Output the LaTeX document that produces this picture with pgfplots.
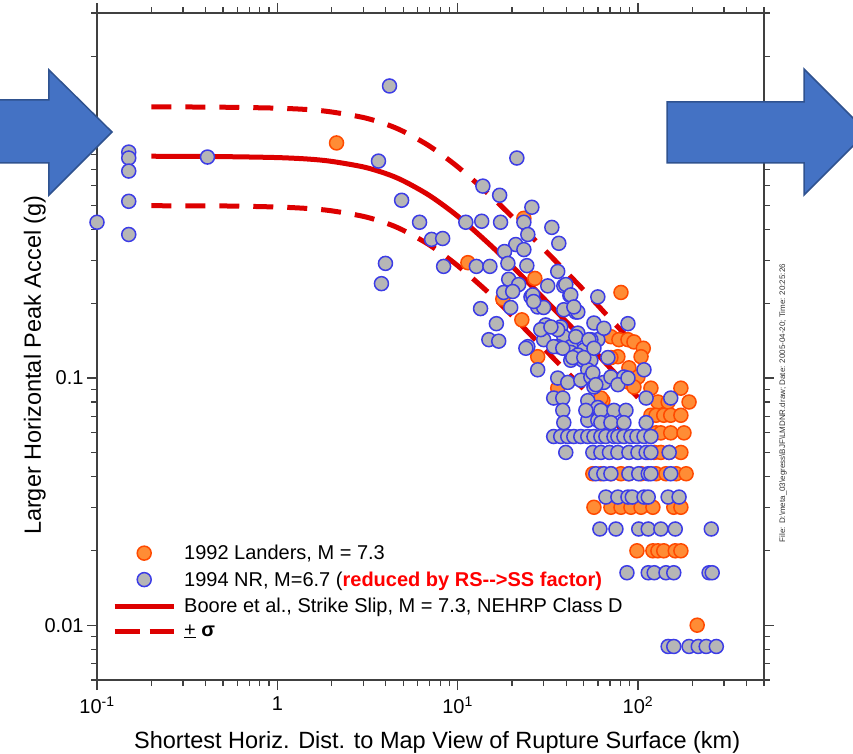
\documentclass[border=0pt]{standalone}
\usepackage{pgfplots}
\pgfplotsset{compat=1.18}
\usepackage{fontspec}
\setmainfont{Liberation Sans}
\definecolor{nrfill}{HTML}{B6B6B6}
\definecolor{nredge}{HTML}{3C3CE6}
\definecolor{lfill}{HTML}{FF8C35}
\definecolor{ledge}{HTML}{FF4A00}
\definecolor{curve}{HTML}{DD0000}
\definecolor{arrowfill}{HTML}{4472C4}
\definecolor{arrowedge}{HTML}{2F528F}
\pgfplotsset{
  markleg/.style={legend image code/.code={\draw[mark repeat=2,mark phase=2,##1] plot coordinates {(0bp,0bp) (29.5bp,0bp) (59bp,0bp)};}},
  lineleg/.style={legend image code/.code={\draw[##1] (0bp,0bp) -- (59bp,0bp);}},
  dashleg/.style={legend image code/.code={\draw[##1, dash pattern=on 25bp off 10bp] (0bp,0bp) -- (59bp,0bp);}},
}
\begin{document}
\begin{tikzpicture}[font=\fontsize{20bp}{24bp}\selectfont]
\useasboundingbox (-97bp,-74bp) rectangle (756bp,680bp);
\begin{axis}[
  at={(0bp,0bp)}, anchor=south west,
  scale only axis, width=667bp, height=667bp,
  xmode=log, ymode=log,
  xmin=0.1, xmax=500, ymin=0.006, ymax=3,
  xtick={0.1,1,10,100},
  xticklabels={10\textsuperscript{-1},1,10\textsuperscript{1},10\textsuperscript{2}},
  minor xtick={0.2,0.3,0.4,0.5,0.6,0.7,0.8,0.9,2,3,4,5,6,7,8,9,20,30,40,50,60,70,80,90,200,300,400,500},
  ytick={0.01,0.1,1},
  yticklabels={0.01,0.1,1},
  minor ytick={0.006,0.007,0.008,0.009,0.02,0.03,0.04,0.05,0.06,0.07,0.08,0.09,0.2,0.3,0.4,0.5,0.6,0.7,0.8,0.9,2,3},
  tick align=outside,
  major tick length=10bp, minor tick length=6bp,
  axis line style={black!75, line width=1.3bp},
  every tick/.style={black!75, line width=1.2bp},
  xticklabel style={yshift=-3bp},
  xlabel={Shortest Horiz. Dist. to Map View of Rupture Surface (km)},
  ylabel={Larger Horizontal Peak Accel (g)},
  xlabel style={at={(axis description cs:0.51,-0.102)}, anchor=base, font=\fontsize{23.5bp}{28bp}\selectfont},
  ylabel style={at={(axis description cs:-0.084,0.472)}, anchor=base, font=\fontsize{23.5bp}{28bp}\selectfont},
  clip=false,
  legend cell align=left,
  legend style={at={(axis description cs:0.0225,0.207)}, anchor=north west, draw=none, fill=none,
    font=\fontsize{20bp}{24bp}\selectfont, row sep=4.5bp, column sep=5bp, inner sep=0bp,
    nodes={inner sep=3bp}},
]
% 1992 Landers
\addplot[only marks, mark=*, mark size=7bp, mark options={fill=lfill, draw=ledge, line width=1.5bp}, markleg]
coordinates {
(2.13,0.894) (11.4,0.293) (26.8,0.253) (22.7,0.172) (23.3,0.443) (17.8,0.209) (27.8,0.122) (80.5,0.222)
(35.9,0.091) (63.9,0.081) (70.8,0.147) (78.4,0.143) (88,0.143) (95,0.14) (107,0.132) (104,0.122)
(77.4,0.122) (89.1,0.11) (100,0.101) (118,0.091) (173,0.091) (192,0.08) (129,0.08) (147,0.08)
(62.3,0.083) (58.4,0.076) (88,0.0965) (95,0.092) (70.8,0.121)
(118,0.0707) (126,0.0707) (139,0.0707) (152,0.0707) (173,0.0707)
(126,0.06) (134,0.06) (152,0.06) (180,0.06)
(114,0.05) (123,0.05) (134,0.05) (149,0.05) (173,0.05)
(56.2,0.041) (62.3,0.041) (70.8,0.041) (80.5,0.041) (89.1,0.041) (104,0.041) (126,0.041) (143,0.041) (163,0.041) (185,0.041)
(57,0.03) (70.8,0.03) (80.5,0.03) (91.4,0.03) (104,0.03) (121,0.03) (158,0.03) (173,0.03)
(98.7,0.02) (121,0.02) (129,0.02) (139,0.02) (161,0.02) (173,0.02)
(213,0.01)
};
\addlegendentry{1992 Landers, M = 7.3}
% 1994 Northridge
\addplot[only marks, mark=*, mark size=7bp, mark options={fill=nrfill, draw=nredge, line width=1.5bp}, markleg]
coordinates {
(0.1,0.427) (0.15,0.821) (0.15,0.777) (0.15,0.688) (0.15,0.519) (0.15,0.381) (0.41,0.784)
(4.19,1.52) (3.64,0.755) (4.89,0.524) (6.15,0.427) (7.17,0.364) (8.26,0.367) (3.98,0.291) (3.78,0.241)
(8.36,0.283) (12.7,0.283) (15.1,0.283) (11.1,0.427) (13.6,0.431) (17.3,0.427) (21.3,0.777) (13.8,0.598)
(17.1,0.549) (25.8,0.491) (23.3,0.427) (24.5,0.381) (33.3,0.407) (36.4,0.351) (21.0,0.347) (23.3,0.331)
(18.2,0.325) (19.0,0.291) (24.2,0.285) (35.9,0.27) (19.2,0.251) (21.8,0.239) (31.6,0.236) (38.8,0.236)
(41.9,0.216) (18.0,0.222) (20.2,0.224) (25.5,0.213) (27.8,0.194) (30.0,0.193) (13.4,0.191) (19.7,0.193)
(16.4,0.166) (14.9,0.143) (16.9,0.141) (24.5,0.134) (30.8,0.164) (37.3,0.161) (45.2,0.185) (38.8,0.147)
(35.9,0.134) (30.0,0.143)
(23.9,0.132) (27.8,0.108) (28.9,0.157) (35.9,0.157) (46.4,0.152) (42.4,0.134) (50.1,0.13) (59.9,0.143)
(42.4,0.118) (49.5,0.118) (54.8,0.118) (52.7,0.108) (35.9,0.1) (40.8,0.096) (48.2,0.098) (54.8,0.101)
(57.0,0.092) (64.7,0.096) (34.1,0.083) (38.3,0.083) (38.3,0.074) (52.7,0.081) (59.9,0.076) (64.7,0.073)
(52.7,0.0675) (59.9,0.0675) (64.7,0.0656) (68.1,0.0694)
(39.8,0.239) (42.4,0.217) (46.4,0.185) (57.0,0.167) (64.7,0.159) (59.9,0.213) (32.9,0.161) (42.4,0.127)
(46.4,0.124) (54.8,0.143)
(26.1,0.217) (26.4,0.204) (38.8,0.189) (44.1,0.194) (88.0,0.166) (45.2,0.147) (53.4,0.143) (34.1,0.134)
(38.3,0.132) (43.5,0.121) (50.1,0.121) (57.0,0.132) (68.1,0.121) (56.2,0.105) (70.8,0.101) (83.6,0.101)
(108,0.108) (77.4,0.094) (88,0.1) (58.4,0.094) (111,0.083) (152,0.083) (38.8,0.066) (51.4,0.074)
(62.3,0.074) (73.6,0.074) (85.8,0.074) (62.3,0.066) (70.8,0.066) (83.6,0.066) (111,0.066)
(34.1,0.058) (37.3,0.058) (40.8,0.058) (44.1,0.058) (48.2,0.058) (52.7,0.058) (57.0,0.058) (62.3,0.058)
(66.4,0.058) (73.6,0.058) (77.4,0.058) (83.6,0.058) (91.4,0.058) (98.7,0.058) (108,0.058) (118,0.058)
(39.8,0.05) (56.2,0.05) (62.3,0.05) (69.5,0.05) (77.4,0.05) (89.1,0.05) (100,0.05) (111,0.05) (118,0.05) (149,0.05)
(58.4,0.041) (64.7,0.041) (70.8,0.041) (89.1,0.041) (101,0.041) (114,0.041) (118,0.041) (152,0.041)
(66.4,0.033) (77.4,0.033) (88,0.033) (93,0.033) (108,0.033) (114,0.033) (147,0.033) (169,0.033)
(61.5,0.0245) (75.5,0.0245) (101,0.0245) (114,0.0245) (134,0.0245) (161,0.0245) (255,0.0245)
(86.9,0.0163) (114,0.0163) (123,0.0163) (143,0.0163) (158,0.0163) (248,0.0163) (258,0.0163)
(147,0.0082) (158,0.0082) (192,0.0082) (216,0.0082) (239,0.0082) (272,0.0082)
};
\addlegendentry{1994 NR, M=6.7 (\textcolor{red}{\bfseries reduced by RS-{}->SS factor)}}
% Boore et al. median
\addplot[curve, line width=5bp, smooth, lineleg]
coordinates {
(0.2,0.79) (0.5,0.787) (1,0.78) (1.5,0.769) (2,0.753) (3,0.715) (4,0.672) (5,0.628) (7,0.547)
(10,0.452) (15,0.348) (20,0.284) (30,0.210) (50,0.143) (70,0.110) (100,0.0834)
};
\addlegendentry{Boore et al., Strike Slip, M = 7.3, NEHRP Class D}
% +sigma
\addplot[curve, line width=5bp, smooth, dash pattern=on 20bp off 14bp, dashleg]
coordinates {
(0.2,1.252) (0.5,1.247) (1,1.236) (1.5,1.219) (2,1.193) (3,1.133) (4,1.065) (5,0.995) (7,0.867)
(10,0.716) (15,0.552) (20,0.450) (30,0.333) (50,0.227) (70,0.174) (100,0.132)
};
\addlegendentry{\underline{+} {\bfseries σ}}
% -sigma
\addplot[curve, line width=5bp, smooth, dash pattern=on 20bp off 14bp, forget plot]
coordinates {
(0.2,0.498) (0.5,0.497) (1,0.492) (1.5,0.485) (2,0.475) (3,0.451) (4,0.424) (5,0.396) (7,0.345)
(10,0.285) (15,0.220) (20,0.179) (30,0.132) (50,0.0902) (70,0.0694) (100,0.0526)
};
\end{axis}
% decorative arrows
\draw[fill=arrowfill, draw=arrowedge, line width=1.5bp]
  (-105bp,580bp) -- (-48bp,580bp) -- (-48bp,610bp) -- (15bp,548bp) -- (-48bp,485bp) -- (-48bp,517bp) -- (-105bp,517bp) -- cycle;
\draw[fill=arrowfill, draw=arrowedge, line width=1.5bp]
  (570bp,578bp) -- (707bp,578bp) -- (707bp,611bp) -- (770bp,548bp) -- (707bp,485bp) -- (707bp,517bp) -- (570bp,517bp) -- cycle;
\node[rotate=90, font=\fontsize{8bp}{9bp}\selectfont, text=black!80] at (686bp,277bp)
  {File: D:\textbackslash meta\_03\textbackslash egress\textbackslash BJF\textbackslash LMDNR.draw; Date: 2005-04-20; Time: 20:25:26};
\end{tikzpicture}
\end{document}
